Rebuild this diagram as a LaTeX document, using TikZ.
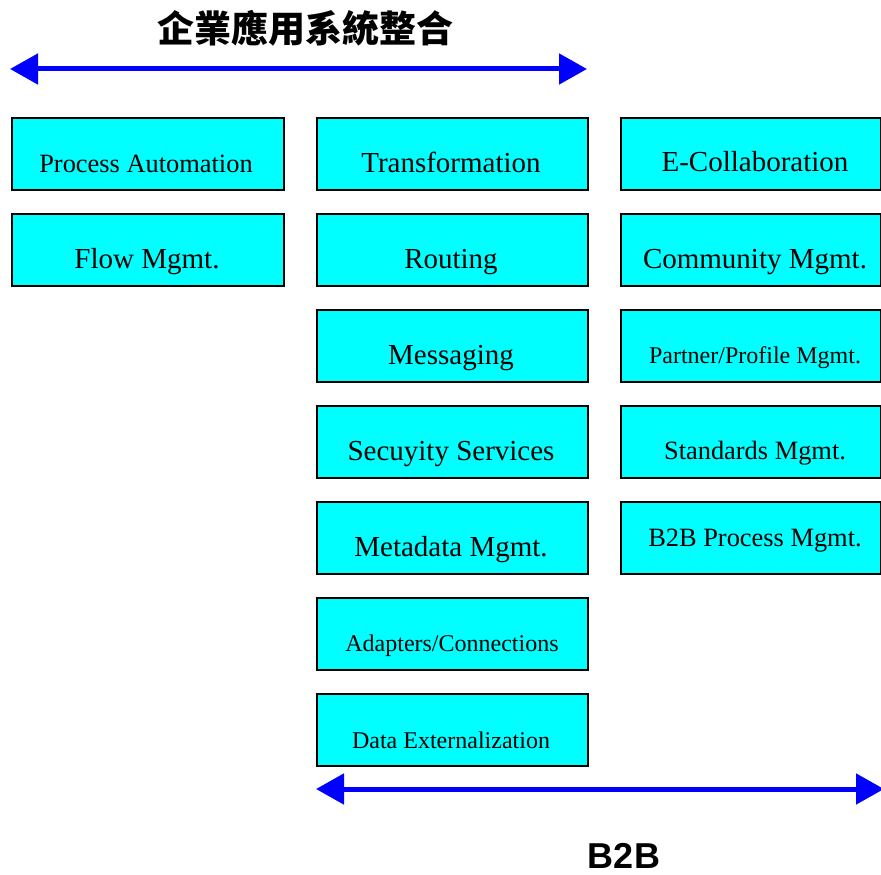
\documentclass[tikz,border=0pt]{standalone}
\usepackage{fontspec}
\setmainfont{Liberation Serif}
\newfontfamily\cjk{Noto Sans CJK TC}
\newfontfamily\arialb{Liberation Sans}
\usetikzlibrary{arrows.meta}
\definecolor{boxcyan}{RGB}{0,255,255}
\definecolor{arrblue}{RGB}{0,0,255}
\tikzset{
  box/.style={draw=black, line width=1.6pt, fill=boxcyan, minimum height=72pt, inner sep=0pt, anchor=north west},
  lbl/.style={inner sep=0pt, text=black},
  big/.style={font=\fontsize{29}{34}\selectfont},
  mid/.style={font=\fontsize{26.4}{31}\selectfont},
  sml/.style={font=\fontsize{24}{28}\selectfont},
  dbl/.style={draw=arrblue, line width=5pt, {Triangle[length=28pt,width=30pt]}-{Triangle[length=28pt,width=30pt]}}
}
\begin{document}
\begin{tikzpicture}[x=1pt,y=-1pt]
\useasboundingbox (0,0) rectangle (881,875);
% title
\node[lbl, font=\cjk\bfseries\fontsize{37}{40}\selectfont] (title) at (305,28) {企業應用系統整合};
\coordinate (tl) at (10,69);
\coordinate (tr) at (587,69);
\draw[dbl] (tl) -- (tr);
% column 1
\node[box, minimum width=272pt] (pa) at (11,117) {};
\node[lbl, mid] at (146,164) {Process Automation};
\node[box, minimum width=272pt] (fm) at (11,213) {};
\node[lbl, big] at (147,262) {Flow Mgmt.};
% column 2
\node[box, minimum width=271pt] (tf) at (316,117) {};
\node[lbl, big] at (451,162) {Transformation};
\node[box, minimum width=271pt] (ro) at (316,213) {};
\node[lbl, big] at (451,262) {Routing};
\node[box, minimum width=271pt] (ms) at (316,309) {};
\node[lbl, big] at (451,358) {Messaging};
\node[box, minimum width=271pt] (ss) at (316,405) {};
\node[lbl, big] at (451,454) {Secuyity Services};
\node[box, minimum width=271pt] (md) at (316,501) {};
\node[lbl, big] at (451,550) {Metadata Mgmt.};
\node[box, minimum width=271pt] (ad) at (316,597) {};
\node[lbl, sml] at (452,646) {Adapters/Connections};
\node[box, minimum width=271pt] (de) at (316,693) {};
\node[lbl, sml] at (451,740) {Data Externalization};
% column 3
\node[box, minimum width=260pt] (ec) at (620,117) {};
\node[lbl, big] at (755,162) {E-Collaboration};
\node[box, minimum width=260pt] (cm) at (620,213) {};
\node[lbl, big] at (755,262) {Community Mgmt.};
\node[box, minimum width=260pt] (pp) at (620,309) {};
\node[lbl, sml] at (755,358) {Partner/Profile Mgmt.};
\node[box, minimum width=260pt] (sm) at (620,405) {};
\node[lbl, mid] at (755,453) {Standards Mgmt.};
\node[box, minimum width=260pt] (bp) at (620,501) {};
\node[lbl, mid] at (755,541) {B2B Process Mgmt.};
% bottom arrow
\coordinate (bl) at (316,789);
\coordinate (br) at (884,789);
\draw[dbl] (bl) -- (br);
\node[lbl, font=\arialb\bfseries\fontsize{36}{40}\selectfont] (b2b) at (624,856) {B2B};
\end{tikzpicture}
\end{document}
